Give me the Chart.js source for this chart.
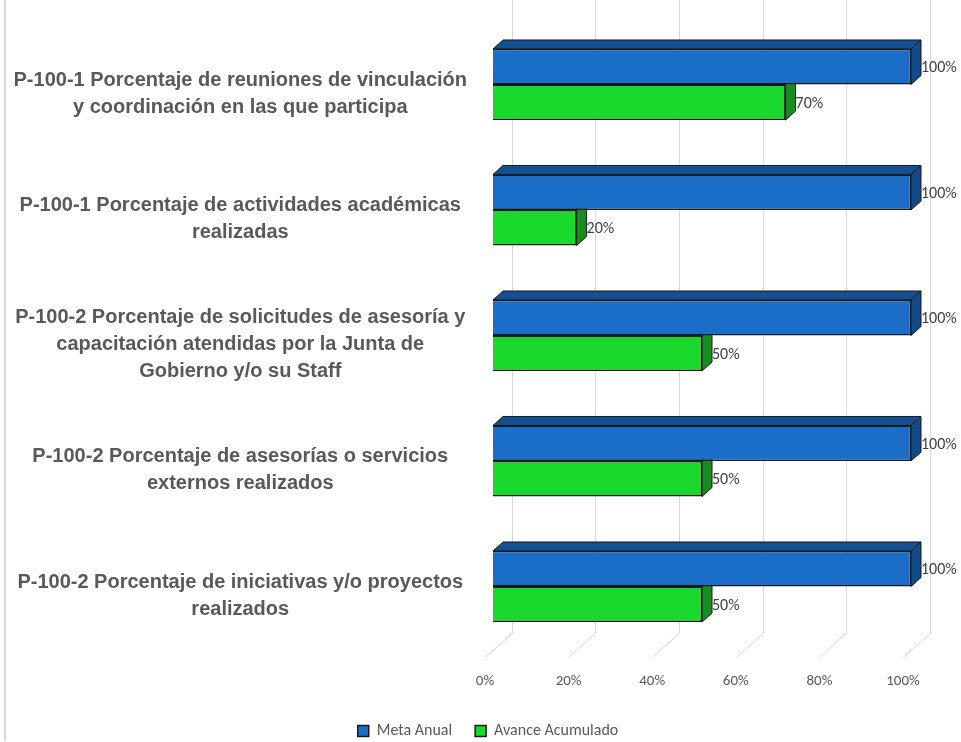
<!DOCTYPE html>
<html><head><meta charset="utf-8">
<script src="https://cdn.jsdelivr.net/npm/chart.js@4"></script>
<style>html,body{margin:0;padding:0;background:#fff;}canvas{display:block}</style>
</head><body>
<canvas id="c" width="961" height="742"></canvas>
<script>
const categories = [
  ["P-100-1 Porcentaje de reuniones de vinculación", "y coordinación en las que participa"],
  ["P-100-1 Porcentaje de actividades académicas", "realizadas"],
  ["P-100-2 Porcentaje de solicitudes de asesoría y", "capacitación atendidas por la Junta de", "Gobierno y/o su Staff"],
  ["P-100-2 Porcentaje de asesorías o servicios", "externos realizados"],
  ["P-100-2 Porcentaje de iniciativas y/o proyectos", "realizados"]
];
const seriesNames = ["Meta Anual", "Avance Acumulado"];
const metaAnual = [100, 100, 100, 100, 100];
const avanceAcumulado = [70, 20, 50, 50, 50];
const xTickLabels = ["0%", "20%", "40%", "60%", "80%", "100%"];

const DX = 10, DY = 9, WX = 18.7;
const faceColors = [
  {top: "#134f91", side: "#134a8a"},
  {top: "#15a324", side: "#178c1f"}
];

const threeD = {
  id: "threeD",
  beforeDraw(chart) {
    const ctx = chart.ctx;
    ctx.save();
    ctx.fillStyle = "#ffffff";
    ctx.fillRect(0, 0, chart.width, chart.height);
    ctx.fillStyle = "#d9d9d9";
    ctx.fillRect(4, 0, 2, 741);
    ctx.restore();
  },
  beforeDatasetsDraw(chart) {
    const ctx = chart.ctx, xs = chart.scales.x, area = chart.chartArea;
    ctx.save();
    ctx.strokeStyle = "#d9d9d9";
    ctx.lineWidth = 1;
    xs.ticks.forEach(t => {
      const px = Math.round(xs.getPixelForValue(t.value) + WX) + 0.5;
      ctx.beginPath();
      ctx.moveTo(px, 0);
      ctx.lineTo(px, area.bottom - 16);
      ctx.lineTo(px - 27, area.bottom + 8);
      ctx.stroke();
    });
    ctx.strokeStyle = "#1a1a1a";
    ctx.lineWidth = 1;
    chart.data.datasets.forEach((ds, di) => {
      const meta = chart.getDatasetMeta(di);
      const fc = faceColors[di];
      meta.data.forEach(bar => {
        const p = bar.getProps(["x", "y", "base", "height"], true);
        const top = p.y - p.height / 2, bot = p.y + p.height / 2;
        ctx.fillStyle = fc.top;
        ctx.beginPath();
        ctx.moveTo(p.base, top);
        ctx.lineTo(p.base + DX, top - DY);
        ctx.lineTo(p.x + DX, top - DY);
        ctx.lineTo(p.x, top);
        ctx.closePath();
        ctx.fill(); ctx.stroke();
        ctx.fillStyle = fc.side;
        ctx.beginPath();
        ctx.moveTo(p.x, top);
        ctx.lineTo(p.x + DX, top - DY);
        ctx.lineTo(p.x + DX, bot - DY);
        ctx.lineTo(p.x, bot);
        ctx.closePath();
        ctx.fill(); ctx.stroke();
      });
    });
    ctx.restore();
  },
  afterDatasetsDraw(chart) {
    const ctx = chart.ctx;
    ctx.save();
    ctx.fillStyle = "#404040";
    ctx.font = "16px Carlito, Lato, sans-serif";
    ctx.textAlign = "left";
    ctx.textBaseline = "middle";
    chart.data.datasets.forEach((ds, di) => {
      const meta = chart.getDatasetMeta(di);
      meta.data.forEach((bar, i) => {
        const p = bar.getProps(["x", "y"], true);
        ctx.fillText(ds.data[i] + "%", p.x + DX, p.y + 1.5);
      });
    });
    ctx.restore();
  }
};

new Chart(document.getElementById("c"), {
  type: "bar",
  data: {
    labels: categories,
    datasets: [
      {label: seriesNames[0], data: metaAnual, backgroundColor: "#1b6ec8", borderColor: "#1a1a1a", borderWidth: 1.5, yAxisID: "y"},
      {label: seriesNames[1], data: avanceAcumulado, backgroundColor: "#19da2c", borderColor: "#1a1a1a", borderWidth: 1.5, yAxisID: "y"}
    ]
  },
  options: {
    indexAxis: "y",
    responsive: false,
    animation: false,
    devicePixelRatio: 1,
    layout: {padding: {left: 15, right: 0, top: 21.75, bottom: -7}},
    datasets: {bar: {categoryPercentage: 0.566, barPercentage: 1}},
    scales: {
      x: {
        min: 0, max: 100,
        grid: {display: false, drawTicks: false},
        border: {display: false},
        ticks: {
          stepSize: 20, padding: 23, labelOffset: -8,
          color: "#595959",
          font: {family: "Carlito, Lato, sans-serif", size: 15},
          callback: (v, i) => xTickLabels[i]
        },
        afterFit(s) { s.height = 50.75; s.paddingLeft = 0; s.paddingRight = 0; }
      },
      y: {
        grid: {display: false, drawTicks: false},
        border: {display: false},
        ticks: {
          crossAlign: "center", padding: 26, labelOffset: 9,
          color: "#595959",
          font: {family: "'Liberation Sans', Arial, sans-serif", size: 20, weight: "bold", lineHeight: 1.35}
        },
        afterFit(s) { s.width = 478; s.paddingTop = 0; s.paddingBottom = 0; }
      },
      y2: {
        type: "category",
        position: "right",
        labels: categories,
        grid: {display: false, drawTicks: false},
        border: {display: false},
        ticks: {display: false},
        afterFit(s) { s.width = 50; s.paddingTop = 0; s.paddingBottom = 0; }
      }
    },
    plugins: {
      tooltip: {enabled: false},
      legend: {
        position: "bottom",
        labels: {
          boxWidth: 11, boxHeight: 11, padding: 23,
          color: "#595959",
          font: {family: "Carlito, Lato, sans-serif", size: 16}
        }
      }
    }
  },
  plugins: [threeD]
});
</script>
</body></html>
